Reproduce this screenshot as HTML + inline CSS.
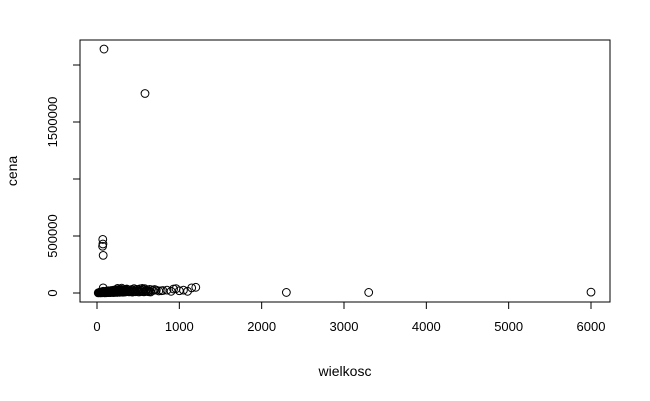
<!DOCTYPE html>
<html><head><meta charset="utf-8"><style>
body{margin:0;background:#fff;}
svg{display:block;font-family:"Liberation Sans",sans-serif;}
</style></head><body>
<svg width="650" height="401">
<rect x="80" y="40" width="530" height="262" fill="none" stroke="#000"/>
<g id="xaxis"></g>
<g id="yaxis"></g>
<g id="pts"></g>
<text x="345" y="376" font-size="14" text-anchor="middle">wielkosc</text>
<text transform="translate(17,171) rotate(-90)" font-size="14" text-anchor="middle">cena</text>
</svg>
<script>
const xTicks=[0,1000,2000,3000,4000,5000,6000];
const yTicks=[0,500000,1000000,1500000,2000000];
const yTickLabels=["0","500000","","1500000",""];
const wielkosc=[85,583,70,72,68,75,2300,3300,6000,
20,30,40,45,50,55,60,65,70,75,80,90,100,110,120,130,140,150,160,170,180,190,200,210,220,230,240,250,260,270,280,290,300,310,320,330,340,350,360,380,400,420,440,460,480,500,520,540,560,580,600,620,640,660,680,700,720,750,780,800,850,900,930,960,1000,1050,1100,1150,1200,75,250,300,450,550,
15,25,35,48,58,68,78,88,95,105,115,125,135,145,155,165,175,185,195,205,215,225,235,245,255,265,275,285,295,305,315,325,335,345,355,370,390,410,430,450,470,490,510,530,550,570,590,610,630,650];
const cena=[2140000,1750000,470000,430000,410000,330000,5000,5000,8000,
3000,5000,2000,8000,4000,10000,6000,12000,3000,15000,7000,9000,14000,6000,18000,10000,20000,12000,8000,22000,15000,10000,25000,18000,12000,28000,20000,15000,30000,22000,18000,25000,32000,20000,26000,15000,30000,22000,35000,28000,20000,30000,25000,18000,32000,28000,36000,24000,30000,38000,26000,20000,32000,28000,22000,30000,25000,18000,20000,22000,25000,15000,35000,38000,20000,25000,15000,45000,50000,45000,40000,42000,38000,40000,
1000,2000,6000,1000,3000,2000,5000,4000,1000,3000,2000,8000,5000,3000,6000,4000,9000,5000,7000,4000,10000,6000,8000,5000,12000,9000,6000,14000,8000,11000,7000,13000,10000,9000,15000,12000,10000,16000,8000,13000,11000,17000,9000,14000,12000,10000,15000,13000,11000,9000];
const ns="http://www.w3.org/2000/svg";
const X=v=>97+v*(494/6000), Y=v=>293-v*0.000114;
function mk(t,a,p){const e=document.createElementNS(ns,t);for(const k in a)e.setAttribute(k,a[k]);p.appendChild(e);return e;}
const xa=document.getElementById('xaxis'),ya=document.getElementById('yaxis'),pg=document.getElementById('pts');
mk('line',{x1:X(0),x2:X(6000),y1:302,y2:302,stroke:'#000'},xa);
xTicks.forEach(t=>{const l=mk('line',{x1:X(t),x2:X(t),y1:302,y2:309,stroke:'#000'},xa);


const tx=mk('text',{x:X(t),y:331,'font-size':13,'text-anchor':'middle'},xa);tx.textContent=t;

});
mk('line',{x1:80,x2:80,y1:Y(0),y2:Y(2000000),stroke:'#000'},ya);
yTicks.forEach((t,i)=>{const l=mk('line',{x1:73,x2:80,y1:Y(t),y2:Y(t),stroke:'#000'},ya);


if(yTickLabels[i]){const tx=mk('text',{transform:`translate(57,${Y(t)}) rotate(-90)`,'font-size':13,'text-anchor':'middle'},ya);tx.textContent=yTickLabels[i];

}});
wielkosc.forEach((v,i)=>{const c=mk('circle',{cx:X(v),cy:Y(cena[i]),r:3.9,fill:'none',stroke:'#000'},pg);

});
</script>
</body></html>
